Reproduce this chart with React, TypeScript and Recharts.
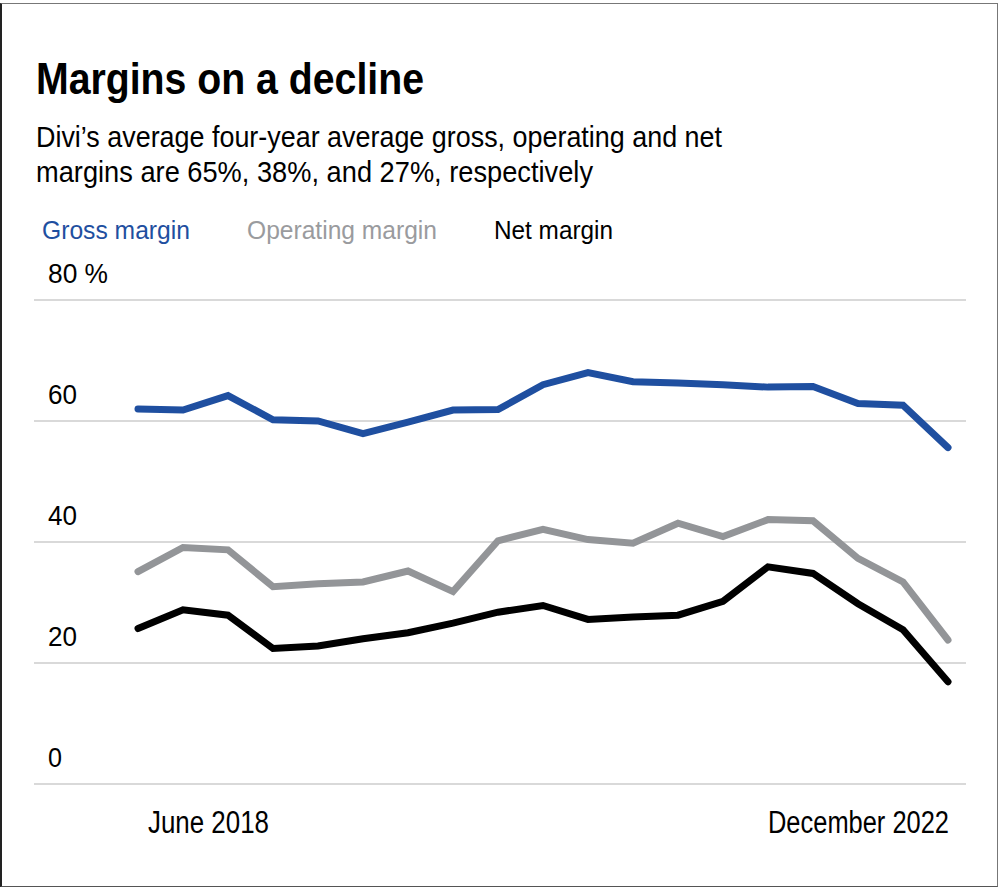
import React from 'react';
import { LineChart, Line, XAxis, YAxis, CartesianGrid } from 'recharts';

const quarters = [
  'Jun 2018', 'Sep 2018', 'Dec 2018', 'Mar 2019', 'Jun 2019', 'Sep 2019', 'Dec 2019',
  'Mar 2020', 'Jun 2020', 'Sep 2020', 'Dec 2020', 'Mar 2021', 'Jun 2021', 'Sep 2021',
  'Dec 2021', 'Mar 2022', 'Jun 2022', 'Sep 2022', 'Dec 2022',
];
const grossMargin = [62.0, 61.8, 64.2, 60.2, 60.0, 57.9, 59.8, 61.8, 61.9, 66.0, 68.0, 66.5, 66.3, 66.0, 65.6, 65.7, 62.9, 62.6, 55.6];
const operatingMargin = [35.1, 39.1, 38.7, 32.6, 33.1, 33.4, 35.2, 31.8, 40.2, 42.1, 40.4, 39.8, 43.1, 40.9, 43.7, 43.5, 37.3, 33.4, 23.8];
const netMargin = [25.7, 28.8, 27.9, 22.4, 22.8, 24.0, 25.0, 26.6, 28.4, 29.5, 27.2, 27.6, 27.9, 30.2, 35.9, 34.8, 29.8, 25.5, 16.9];
const yTicks = [0, 20, 40, 60, 80];
const xTickLabels: Record<string, string> = { 'Jun 2018': 'June 2018', 'Dec 2022': 'December 2022' };

const data = quarters.map((q, i) => ({
  quarter: q,
  gross: grossMargin[i],
  operating: operatingMargin[i],
  net: netMargin[i],
}));

const FONT = '"Liberation Sans", Arial, sans-serif';
const BLUE = '#1f4fa0';
const GRAY = '#939598';

// rendered widths of the condensed face in the reference
const textWidths: Record<string, number> = {
  '80 %': 60, '60': 29, '40': 29, '20': 29, '0': 14,
  'June 2018': 121, 'December 2022': 181,
};

const YTick = (props: any) => {
  const { y, payload } = props;
  const label = payload.value === 80 ? '80 %' : String(payload.value);
  return (
    <text
      x={48}
      y={y - 17}
      fontFamily={FONT}
      fontSize={28}
      fill="#000"
      textAnchor="start"
      textLength={textWidths[label]}
      lengthAdjust="spacingAndGlyphs"
    >
      {label}
    </text>
  );
};

const XTick = (props: any) => {
  const { x, y, payload, index } = props;
  const label = xTickLabels[payload.value];
  if (!label) return <g />;
  const first = index === 0;
  const w = textWidths[label];
  return (
    <text
      x={first ? x + 10 : x + 1 - w}
      y={y + 49}
      fontFamily={FONT}
      fontSize={31}
      fill="#000"
      textAnchor="start"
      textLength={w}
      lengthAdjust="spacingAndGlyphs"
    >
      {label}
    </text>
  );
};

const T = (p: { x: number; y: number; w: number; size: number; fill?: string; bold?: boolean; children: string }) => (
  <text
    x={p.x}
    y={p.y}
    fontFamily={FONT}
    fontSize={p.size}
    fontWeight={p.bold ? 'bold' : 'normal'}
    fill={p.fill || '#000'}
    textLength={p.w}
    lengthAdjust="spacingAndGlyphs"
  >
    {p.children}
  </text>
);

export default function App() {
  return (
    <div
      style={{
        position: 'absolute',
        left: 0,
        top: 0,
        width: 1000,
        height: 888,
        background: '#fff',
        overflow: 'hidden',
      }}
    >
      <div
        style={{
          position: 'absolute',
          left: 0,
          top: 3,
          width: 995,
          height: 882,
          borderTop: '1.5px solid #777',
          borderRight: '1.5px solid #777',
          borderBottom: '1.5px solid #555',
          borderLeft: '2px solid #222',
        }}
      />
      <svg width={1000} height={260} style={{ position: 'absolute', left: 0, top: 0 }}>
        <T x={36} y={94} w={388} size={45} bold>Margins on a decline</T>
        <T x={36} y={146.7} w={686} size={30}>Divi’s average four-year average gross, operating and net</T>
        <T x={36} y={181.7} w={557} size={30}>margins are 65%, 38%, and 27%, respectively</T>
        <T x={42} y={238.5} w={148} size={26.5} fill={BLUE}>Gross margin</T>
        <T x={247} y={238.5} w={190} size={26.5} fill="#9a9b9e">Operating margin</T>
        <T x={494} y={238.5} w={119} size={26.5}>Net margin</T>
      </svg>
      <div style={{ position: 'absolute', left: 0, top: 0 }}>
        <LineChart
          width={1000}
          height={888}
          data={data}
          margin={{ top: 300, right: 34, bottom: 103, left: 33 }}
        >
          <CartesianGrid horizontal vertical={false} stroke="#cccccc" strokeWidth={1.5} />
          <XAxis
            dataKey="quarter"
            height={1}
            axisLine={false}
            tickLine={false}
            tickSize={0}
            tickMargin={0}
            interval={0}
            padding={{ left: 104, right: 18 }}
            tick={<XTick />}
          />
          <YAxis
            width={1}
            domain={[0, 80]}
            ticks={yTicks}
            axisLine={false}
            tickLine={false}
            interval={0}
            tick={<YTick />}
          />
          <Line type="linear" dataKey="gross" stroke={BLUE} strokeWidth={7} dot={false} strokeLinecap="round" isAnimationActive={false} />
          <Line type="linear" dataKey="operating" stroke={GRAY} strokeWidth={7} dot={false} strokeLinecap="round" isAnimationActive={false} />
          <Line type="linear" dataKey="net" stroke="#000" strokeWidth={7} dot={false} strokeLinecap="round" isAnimationActive={false} />
        </LineChart>
      </div>
    </div>
  );
}
